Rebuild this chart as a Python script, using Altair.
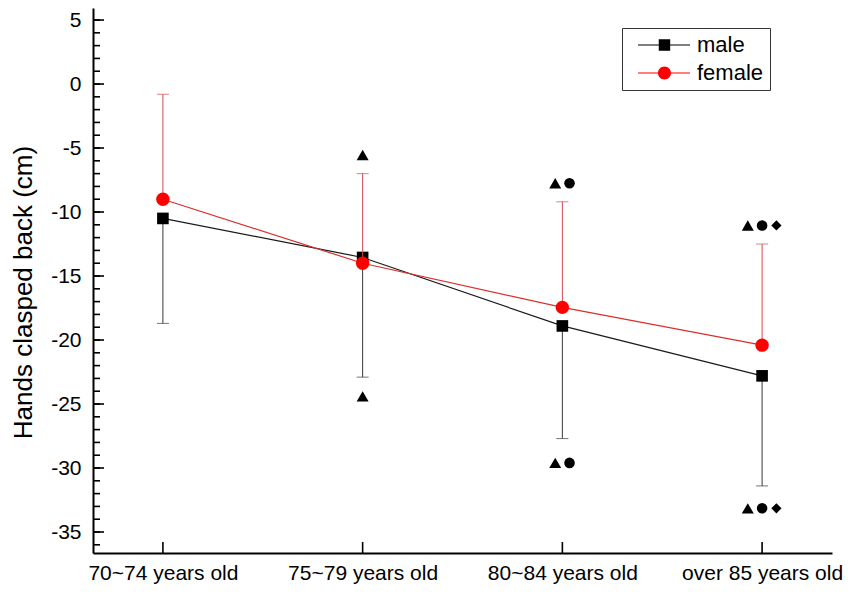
import altair as alt
import pandas as pd

# ---------------- data ----------------
categories = ["70~74 years old", "75~79 years old", "80~84 years old", "over 85 years old"]
male_mean = [-10.5, -13.55, -18.9, -22.8]
male_lower = [-18.7, -22.9, -27.7, -31.4]
female_mean = [-9.0, -14.0, -17.45, -20.4]
female_upper = [-0.8, -7.0, -9.2, -12.5]
sig_upper_y = [None, -5.55, -7.75, -11.05]
sig_lower_y = [None, -24.4, -29.6, -33.15]
sig_shapes = [[], ["triangle-up"], ["triangle-up", "circle"], ["triangle-up", "circle", "diamond"]]
y_major = [5, 0, -5, -10, -15, -20, -25, -30, -35]
y_minor = list(range(-36, 6))
sexes = ["male", "female"]

# ---------------- style ----------------
FONT = "Liberation Sans"
W, H = 739, 545
Y_DOMAIN = [-36.64, 5.94]
SIG_SPACING = 14.3
SIG_SIZE = {"triangle-up": 144, "circle": 112, "diamond": 105}

male_df = pd.DataFrame({"cat": categories, "mean": male_mean, "err": male_lower})
female_df = pd.DataFrame({"cat": categories, "mean": female_mean, "err": female_upper})

rows = []
for cat, up, lo, shapes in zip(categories, sig_upper_y, sig_lower_y, sig_shapes):
    n = len(shapes)
    for i, s in enumerate(shapes):
        off = round((i - (n - 1) / 2) * SIG_SPACING, 2)
        for yv in (up, lo):
            rows.append({"cat": cat, "y": yv, "shape": s, "off": off})
sig_df = pd.DataFrame(rows)

xscale = alt.Scale(domain=categories, type="point", padding=0.35)
xaxis = alt.Axis(title=None, labelAngle=0, labelFont=FONT, labelFontSize=21, labelColor="black",
                 labelPadding=9, ticks=False, domainColor="black", domainWidth=2, grid=False)
yscale = alt.Scale(domain=Y_DOMAIN, nice=False, zero=False)
yaxis = alt.Axis(title="Hands clasped back (cm)", values=y_major, labelExpr="toString(datum.value)",
                 labelFont=FONT, labelFontSize=21, labelColor="black", labelPadding=12, ticks=False,
                 domainColor="black", domainWidth=2, grid=False, titleFont=FONT, titleFontSize=26,
                 titleFontWeight="normal", titleColor="black", titlePadding=14, titleY=284)


def X():
    return alt.X("cat:N", scale=xscale, axis=xaxis, sort=categories)


def Y(field):
    return alt.Y(field, type="quantitative", scale=yscale, axis=yaxis)


# axis ticks pointing inward
minor_ticks = alt.Chart(pd.DataFrame({"v": y_minor})).mark_rule(color="black", strokeWidth=1.6).encode(
    y=Y("v"), x=alt.value(0), x2=alt.value(7))
major_ticks = alt.Chart(pd.DataFrame({"v": y_major})).mark_rule(color="black", strokeWidth=1.6).encode(
    y=Y("v"), x=alt.value(0), x2=alt.value(11))
x_ticks = alt.Chart(pd.DataFrame({"cat": categories})).mark_rule(color="black", strokeWidth=1.6).encode(
    x=X(), y=alt.value(H), y2=alt.value(H - 11))

# male
m_err = alt.Chart(male_df).mark_rule(color="#3a3a3a", strokeWidth=1).encode(x=X(), y=Y("mean"), y2="err:Q")
m_cap = alt.Chart(male_df).mark_tick(color="#3a3a3a", size=12, thickness=1).encode(x=X(), y=Y("err"))
m_line = alt.Chart(male_df).mark_line(color="#1a1a1a", strokeWidth=1.2).encode(x=X(), y=Y("mean"))
m_pts = alt.Chart(male_df).mark_point(shape="square", filled=True, color="black", size=135, opacity=1).encode(
    x=X(), y=Y("mean"))

# female
f_err = alt.Chart(female_df).mark_rule(color="#d24a4a", strokeWidth=1).encode(x=X(), y=Y("mean"), y2="err:Q")
f_cap = alt.Chart(female_df).mark_tick(color="#d24a4a", size=12, thickness=1).encode(x=X(), y=Y("err"))
f_line = alt.Chart(female_df).mark_line(color="#d8302c", strokeWidth=1.2).encode(x=X(), y=Y("mean"))
f_pts = alt.Chart(female_df).mark_point(shape="circle", filled=True, color="#ff0000", size=180, opacity=1).encode(
    x=X(), y=Y("mean"))

# significance markers: one layer per (shape, offset)
sig_layers = []
for (shape, off), sub in sig_df.groupby(["shape", "off"]):
    sig_layers.append(
        alt.Chart(sub).mark_point(filled=True, color="black", opacity=1, shape=shape,
                                  size=SIG_SIZE[shape], xOffset=float(off)).encode(
            x=X(), y=Y("y")))

# legend (custom filled symbols: thin line + marker); carrier marks are clipped away
male_path = "M-0.15,-0.09L7.85,-0.09L7.85,0.09L-0.15,0.09ZM3.04,-0.88L4.80,-0.88L4.80,0.88L3.04,0.88Z"
female_path = "M-0.15,-0.09L7.85,-0.09L7.85,0.09L-0.15,0.09ZM2.92,0A1,1,0,1,1,4.92,0A1,1,0,1,1,2.92,0Z"
leg = alt.Legend(title=None, orient="none", legendX=529, legendY=20, padding=6, strokeColor="#333333",
                 labelFont=FONT, labelFontSize=22, labelColor="black", labelOffset=47, rowPadding=6,
                 symbolSize=169, symbolStrokeWidth=0)
legend_layer = alt.Chart(pd.DataFrame({"sex": sexes})).mark_point(
    filled=True, size=169, opacity=1, clip=True).encode(
    x=alt.value(-2000), y=alt.value(-2000),
    shape=alt.Shape("sex:N", scale=alt.Scale(domain=sexes, range=[male_path, female_path]), legend=leg),
    color=alt.Color("sex:N", scale=alt.Scale(domain=sexes, range=["#000000", "#ff0000"]), legend=leg),
)

chart = alt.layer(
    minor_ticks, major_ticks, x_ticks,
    m_err, m_cap, m_line, m_pts,
    f_err, f_cap, f_line, f_pts,
    *sig_layers, legend_layer,
).properties(
    width=W, height=H,
    autosize=alt.AutoSizeParams(type="none"),
    padding={"left": 85, "top": 0, "right": 11, "bottom": 33},
    background="white",
).configure_view(stroke=None)

chart.save("out.html", embed_options={"renderer": "svg", "actions": False})
